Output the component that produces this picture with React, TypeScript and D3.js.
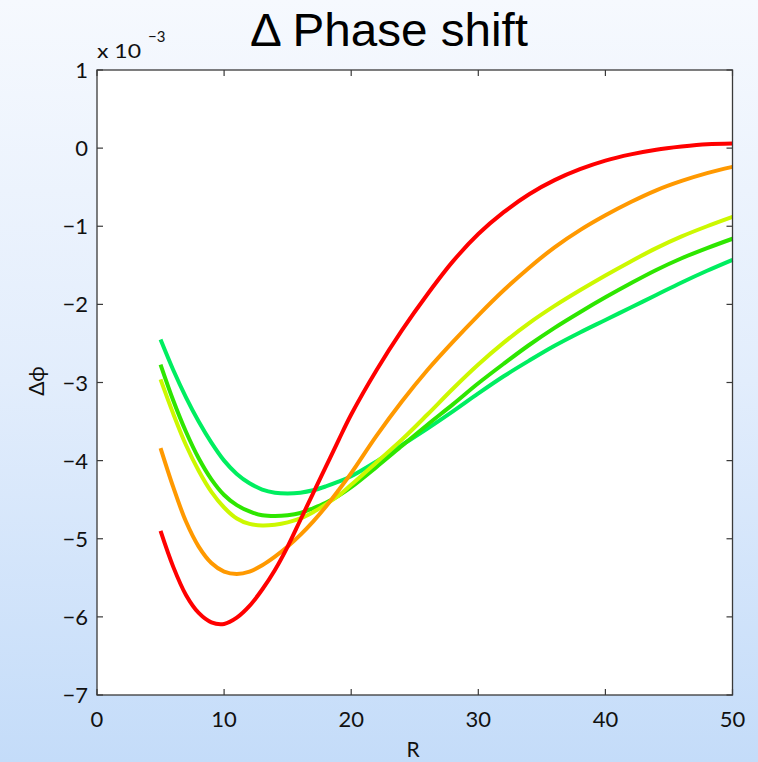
import React from "react";
import * as d3 from "d3";

const R = [5, 6, 7, 8, 9, 10, 11, 12, 13, 14, 15, 16, 17, 18, 19, 20, 22, 24, 26, 28, 30, 32, 34, 36, 38, 40, 42, 44, 46, 48, 50];

const redVals = [-4.90, -5.36, -5.72, -5.95, -6.07, -6.09, -6.01, -5.86, -5.65, -5.40, -5.10, -4.76, -4.42, -4.08, -3.74, -3.41, -2.84, -2.33, -1.87, -1.45, -1.10, -0.82, -0.59, -0.41, -0.27, -0.16, -0.08, -0.02, 0.02, 0.05, 0.06];
const orangeVals = [-3.84, -4.34, -4.78, -5.10, -5.31, -5.42, -5.45, -5.42, -5.34, -5.23, -5.10, -4.95, -4.78, -4.59, -4.38, -4.16, -3.68, -3.24, -2.84, -2.48, -2.14, -1.82, -1.53, -1.27, -1.05, -0.86, -0.69, -0.54, -0.42, -0.32, -0.24];
const yellowVals = [-2.96, -3.40, -3.80, -4.13, -4.40, -4.60, -4.74, -4.81, -4.83, -4.82, -4.79, -4.74, -4.66, -4.56, -4.45, -4.31, -4.02, -3.73, -3.41, -3.08, -2.77, -2.49, -2.24, -2.02, -1.82, -1.63, -1.45, -1.28, -1.13, -1.00, -0.88];
const greenVals = [-2.77, -3.23, -3.63, -3.97, -4.24, -4.44, -4.57, -4.65, -4.70, -4.71, -4.70, -4.67, -4.61, -4.54, -4.45, -4.34, -4.08, -3.81, -3.54, -3.28, -3.01, -2.76, -2.52, -2.30, -2.10, -1.91, -1.73, -1.56, -1.41, -1.28, -1.16];
const springVals = [-2.45, -2.84, -3.19, -3.50, -3.77, -4.00, -4.17, -4.29, -4.37, -4.41, -4.42, -4.41, -4.38, -4.33, -4.27, -4.20, -4.01, -3.80, -3.59, -3.37, -3.14, -2.92, -2.72, -2.53, -2.36, -2.20, -2.04, -1.88, -1.72, -1.57, -1.43];

const seriesList = [
  { name: "s5", values: springVals, color: "#00ee60" },
  { name: "s4", values: greenVals, color: "#2ee600" },
  { name: "s3", values: yellowVals, color: "#ccf800" },
  { name: "s2", values: orangeVals, color: "#ff9900" },
  { name: "s1", values: redVals, color: "#ff0000" },
];

const xTicks = [0, 10, 20, 30, 40, 50];
const yTicks = [-7, -6, -5, -4, -3, -2, -1, 0, 1];

const W = 758;
const H = 762;
const M = { left: 97, right: 732.5, top: 70, bottom: 695 };

export default function App() {
  const x = d3.scaleLinear().domain([0, 50]).range([M.left, M.right]);
  const y = d3.scaleLinear().domain([-7, 1]).range([M.bottom, M.top]);
  const line = d3
    .line<number>()
    .x((_, i) => x(R[i]))
    .y((d) => y(d))
    .curve(d3.curveCatmullRom.alpha(0.5));

  const tickFont = "Lato, 'Open Sans', sans-serif";
  const axisColor = "#3a3a3a";
  const tl = 6;

  return (
    <svg
      width={W}
      height={H}
      style={{ position: "absolute", left: 0, top: 0 }}
      xmlns="http://www.w3.org/2000/svg"
    >
      <defs>
        <linearGradient id="bg" x1="0" y1="0" x2="0" y2="1">
          <stop offset="0" stopColor="#f6f9fe" />
          <stop offset="0.5" stopColor="#e2edfc" />
          <stop offset="1" stopColor="#c4dcf9" />
        </linearGradient>
      </defs>
      <rect x={0} y={0} width={W} height={H} fill="url(#bg)" />
      <rect
        x={M.left}
        y={M.top}
        width={M.right - M.left}
        height={M.bottom - M.top}
        fill="#ffffff"
      />

      {seriesList.map((s) => (
        <path
          key={s.name}
          d={line(s.values) || ""}
          fill="none"
          stroke={s.color}
          strokeWidth={4}
          strokeLinejoin="round"
          strokeLinecap="butt"
        />
      ))}

      <rect
        x={M.left}
        y={M.top}
        width={M.right - M.left}
        height={M.bottom - M.top}
        fill="none"
        stroke={axisColor}
        strokeWidth={1.3}
      />

      {xTicks.map((t) => (
        <g key={"x" + t}>
          <line x1={x(t)} x2={x(t)} y1={M.bottom} y2={M.bottom - tl} stroke={axisColor} strokeWidth={1.2} />
          <line x1={x(t)} x2={x(t)} y1={M.top} y2={M.top + tl} stroke={axisColor} strokeWidth={1.2} />
          <text
            x={x(t)}
            y={727}
            textAnchor="middle"
            fontFamily={tickFont}
            fontSize={22}
            fill="#111"
          >
            {t}
          </text>
        </g>
      ))}

      {yTicks.map((t) => (
        <g key={"y" + t}>
          <line x1={M.left} x2={M.left + tl} y1={y(t)} y2={y(t)} stroke={axisColor} strokeWidth={1.2} />
          <line x1={M.right} x2={M.right - tl} y1={y(t)} y2={y(t)} stroke={axisColor} strokeWidth={1.2} />
          <text
            x={88}
            y={y(t) + 8}
            textAnchor="end"
            fontFamily={tickFont}
            fontSize={22}
            fill="#111"
          >
            {t < 0 ? "\u2212" + Math.abs(t) : String(t)}
          </text>
        </g>
      ))}

      <text x={97} y={58} fontFamily={tickFont} fontSize={19} textLength={44} lengthAdjust="spacingAndGlyphs" fill="#111">
        x 10
      </text>
      <text x={148} y={42} fontFamily={tickFont} fontSize={15} fill="#111">
        {"\u22123"}
      </text>

      <text
        x={413}
        y={757}
        textAnchor="middle"
        fontFamily={tickFont}
        fontSize={21}
        fill="#111"
      >
        R
      </text>
      <text
        transform="translate(44,381) rotate(-90)"
        textAnchor="middle"
        fontFamily={tickFont}
        fontSize={21}
        fill="#111"
      >
        {"\u0394\u03d5"}
      </text>

      <text
        x={389}
        y={46}
        textAnchor="middle"
        fontFamily="'Liberation Sans', Arial, sans-serif"
        fontSize={46}
        textLength={278}
        lengthAdjust="spacingAndGlyphs"
        fill="#000"
      >
        {"\u0394 Phase shift"}
      </text>
    </svg>
  );
}
